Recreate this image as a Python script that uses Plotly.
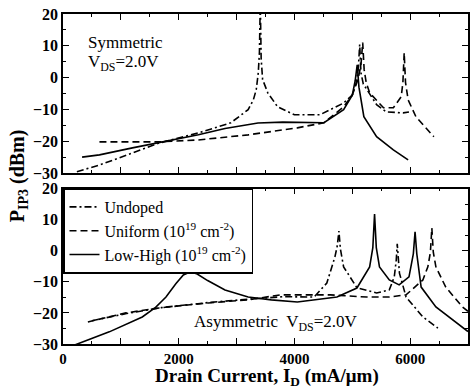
import plotly.graph_objects as go

# ---------------- data ----------------
# Top panel: Symmetric, V_DS = 2.0 V
sym_undoped_x = [240, 630, 1200, 1660, 2340, 2900, 3200, 3290, 3340, 3375, 3395, 3410, 3425, 3450, 3540, 3710,
                 4000, 4440, 4850, 5000, 5070, 5105, 5128, 5150, 5190, 5250, 5420, 5590, 5880, 5980]
sym_undoped_y = [-29.6, -27.5, -23.7, -20.6, -17.4, -14.2, -10.1, -7.0, -3.8, 1.5, 8.0, 24.0, 6.0, -0.6, -4.8, -9.2,
                 -11.7, -11.7, -8.0, -5.5, -1.5, 3.0, 10.4, 1.5, -2.0, -3.8, -8.5, -10.8, -11.1, -10.8]

sym_uniform_x = [630, 1200, 1660, 2340, 3200, 4050, 4510, 4850, 5000, 5100, 5150, 5180, 5205, 5240, 5300, 5540,
                 5710, 5846, 5875, 5897, 5920, 5965, 6100, 6410]
sym_uniform_y = [-20.2, -20.2, -20.2, -19.6, -18.0, -15.8, -14.2, -9.2, -5.5, -0.5, 4.0, 11.0, 2.5, -1.5, -4.8, -9.5,
                 -9.5, -6.0, -1.5, 7.8, -1.5, -7.0, -12.3, -18.6]

sym_lowhigh_x = [330, 630, 1200, 1660, 2340, 2800, 3370, 3800, 4510, 4850, 5000, 5050, 5085, 5115, 5200, 5420,
                 5710, 5965]
sym_lowhigh_y = [-25.0, -24.3, -22.1, -20.5, -18.0, -16.0, -14.3, -14.0, -14.2, -10.1, -5.5, -1.0, 4.0, -3.0, -12.3, -18.6,
                 -22.7, -25.9]

# Bottom panel: Asymmetric, V_DS = 2.0 V
asy_undoped_x = [500, 1100, 1700, 2500, 3200, 3800, 4340, 4560, 4700, 4740, 4769, 4795, 4850, 5080, 5420, 5640,
                 5726, 5760, 5777, 5795, 5815, 5930, 6220, 6480]
asy_undoped_y = [-22.5, -20.2, -18.3, -16.7, -15.6, -14.8, -14.9, -10.4, -2.0, 1.5, 6.3, 0.5, -5.2, -11.9, -13.6, -12.6,
                 -8.4, -3.0, 2.2, -3.0, -7.2, -14.9, -21.3, -24.9]

asy_uniform_x = [430, 1090, 1660, 2510, 3200, 3760, 4620, 5250, 5640, 5930, 6220, 6306, 6350, 6375, 6400, 6445,
                 6615, 6905, 7000]
asy_uniform_y = [-22.9, -20.0, -18.4, -16.8, -15.8, -14.2, -14.2, -14.9, -14.9, -14.2, -9.4, -5.2, -0.5, 7.3, -0.5, -5.2,
                 -11.7, -18.1, -19.5]

asy_lowhigh_x = [205, 800, 1370, 1600, 1780, 1950, 2080, 2205, 2320, 2500, 2800, 3200, 3600, 4050, 4735, 5080,
                 5300, 5355, 5385, 5415, 5470, 5640, 5810, 5980, 6055, 6085, 6115, 6190, 6445, 6735, 6955, 7000]
asy_lowhigh_y = [-30.3, -26.1, -21.3, -18.2, -14.9, -10.6, -7.8, -6.8, -7.5, -9.6, -12.6, -14.9, -15.8, -16.5, -14.9, -12.0,
                 -5.2, 1.0, 11.8, 1.0, -5.2, -9.4, -11.0, -8.4, -1.0, 6.1, -1.0, -11.7, -18.1, -22.3, -25.5, -26.0]

series_names = ["Undoped", "Uniform (10<sup>19</sup> cm<sup>-2</sup>)", "Low-High (10<sup>19</sup> cm<sup>-2</sup>)"]
x_tick_vals = [0, 1000, 2000, 3000, 4000, 5000, 6000, 7000]
x_tick_text = ["0", "", "2000", "", "4000", "", "6000", ""]
y_tick_vals = [-30, -20, -10, 0, 10, 20]

# ---------------- figure ----------------
SERIF = "Liberation Serif"
dashes = ["7px,3px,2px,3px", "7px,4px", "solid"]

fig = go.Figure()
top = [(sym_undoped_x, sym_undoped_y), (sym_uniform_x, sym_uniform_y), (sym_lowhigh_x, sym_lowhigh_y)]
bot = [(asy_undoped_x, asy_undoped_y), (asy_uniform_x, asy_uniform_y), (asy_lowhigh_x, asy_lowhigh_y)]
for i, (xs, ys) in enumerate(top):
    fig.add_trace(go.Scatter(x=xs, y=ys, mode="lines", xaxis="x", yaxis="y",
                             line=dict(color="black", width=1.6, dash=dashes[i]),
                             showlegend=False, legendgroup=f"g{i}"))
for i, (xs, ys) in enumerate(bot):
    fig.add_trace(go.Scatter(x=xs, y=ys, mode="lines", xaxis="x2", yaxis="y2", name=series_names[i],
                             line=dict(color="black", width=1.6, dash=dashes[i]),
                             showlegend=True, legendgroup=f"g{i}"))

L, T, B, H, W = 63, 14, 45, 389, 471
PH = H - T - B
PW = W - L - 1


def yp(py):
    return (H - B - py) / PH


def xp(px):
    return (px - L) / PW


axis_common = dict(range=[0, 7000], tickvals=x_tick_vals, ticks="inside", ticklen=6, tickwidth=1.3,
                   showline=True, linecolor="black", linewidth=1.6, mirror="allticks", showgrid=False,
                   zeroline=False, tickcolor="black",
                   minor=dict(dtick=500, ticks="inside", ticklen=3, tickcolor="black", tickwidth=1),
                   tickfont=dict(family=SERIF, size=15, color="black", weight="bold"))
yaxis_common = dict(range=[-30, 20], tickvals=y_tick_vals, ticks="inside", ticklen=6, tickwidth=1.3,
                    showline=True, linecolor="black", linewidth=1.6, mirror="allticks", showgrid=False,
                    zeroline=False, tickcolor="black",
                    minor=dict(dtick=5, ticks="inside", ticklen=3, tickcolor="black", tickwidth=1),
                    tickfont=dict(family=SERIF, size=16, color="black", weight="bold"))

fig.update_layout(
    width=W, height=H,
    margin=dict(l=L, r=1, t=T, b=B, pad=0),
    paper_bgcolor="white", plot_bgcolor="white",
    font=dict(family=SERIF, color="black"),
    xaxis=dict(axis_common, anchor="y", showticklabels=False, domain=[0, 1]),
    yaxis=dict(yaxis_common, domain=[yp(173), 1]),
    xaxis2=dict(axis_common, anchor="y2", ticktext=x_tick_text, domain=[0, 1]),
    yaxis2=dict(yaxis_common, domain=[0, yp(188.5)]),
    legend=dict(x=0, y=yp(188.5), xanchor="left", yanchor="top", bordercolor="black", borderwidth=1.5,
                bgcolor="white", font=dict(family=SERIF, size=16, color="black"),
                tracegroupgap=0, traceorder="normal"),
    showlegend=True,
)

fig.add_annotation(text="Symmetric", xref="paper", yref="paper", x=xp(86), y=yp(42), xanchor="left",
                   yanchor="middle", showarrow=False, font=dict(family=SERIF, size=17))
fig.add_annotation(text="V<sub>DS</sub>=2.0V", xref="paper", yref="paper", x=xp(86), y=yp(63), xanchor="left",
                   yanchor="middle", showarrow=False, font=dict(family=SERIF, size=17))
fig.add_annotation(text="Asymmetric  V<sub>DS</sub>=2.0V", xref="paper", yref="paper", x=xp(193), y=yp(323),
                   xanchor="left", yanchor="middle", showarrow=False, font=dict(family=SERIF, size=17))
fig.add_annotation(text="P<sub>IP3</sub> (dBm)", xref="paper", yref="paper", x=xp(18), y=yp(176),
                   xanchor="center", yanchor="middle", textangle=-90, showarrow=False,
                   font=dict(family=SERIF, size=20, weight="bold"))
fig.add_annotation(text="Drain Current, I<sub>D</sub> (mA/μm)", xref="paper", yref="paper", x=xp(268), y=yp(377),
                   xanchor="center", yanchor="middle", showarrow=False,
                   font=dict(family=SERIF, size=19, weight="bold"))

fig.write_html("out.html", config={"displayModeBar": False},
               post_script="document.body.style.margin='0px';document.body.style.padding='0px';")
